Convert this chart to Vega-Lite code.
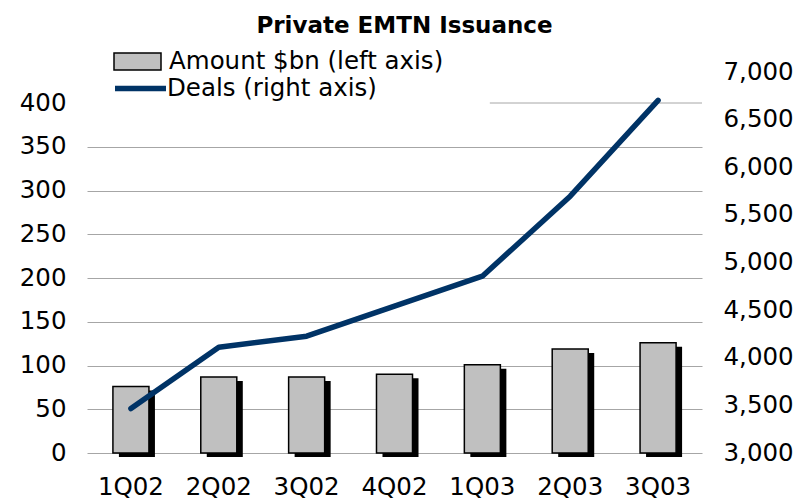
{
  "$schema": "https://vega.github.io/schema/vega-lite/v6.json",
  "width": 615,
  "height": 381,
  "autosize": {"type": "none"},
  "padding": {"left": 87, "top": 72, "right": 94, "bottom": 47},
  "background": "white",
  "title": {
    "text": "Private EMTN Issuance",
    "font": "DejaVu Sans",
    "fontSize": 23,
    "fontWeight": "bold",
    "color": "#000",
    "anchor": "middle",
    "baseline": "alphabetic",
    "dx": 10,
    "offset": -19
  },
  "config": {
    "view": {"stroke": null},
    "axis": {
      "labelFont": "DejaVu Sans",
      "labelFontSize": 24.5,
      "labelColor": "#000",
      "ticks": false,
      "domain": false,
      "title": null
    },
    "legend": {
      "labelFont": "DejaVu Sans",
      "labelFontSize": 24.5,
      "labelColor": "#000",
      "labelLimit": 1000,
      "padding": 0,
      "title": null
    }
  },
  "data": {
    "values": [
      {"q": "1Q02", "amount": 76, "deals": 3466},
      {"q": "2Q02", "amount": 87, "deals": 4110},
      {"q": "3Q02", "amount": 87, "deals": 4226},
      {"q": "4Q02", "amount": 90, "deals": 4541},
      {"q": "1Q03", "amount": 101, "deals": 4856},
      {"q": "2Q03", "amount": 119, "deals": 5696},
      {"q": "3Q03", "amount": 126, "deals": 6702}
    ]
  },
  "layer": [
    {
      "mark": {"type": "bar", "color": "#000", "xOffset": 6, "yOffset": 4, "y2Offset": 3},
      "encoding": {
        "x": {"field": "q", "type": "nominal", "sort": null, "scale": {"type": "band", "paddingInner": 0.59, "paddingOuter": 0.295}, "axis": null},
        "y": {"field": "amount", "type": "quantitative", "scale": {"domain": [0, 435.43], "nice": false, "zero": true}, "axis": null}
      }
    },
    {
      "mark": {"type": "rule", "color": "#a6a6a6", "strokeWidth": 1},
      "data": {"values": [{}]},
      "encoding": {
        "x": {"datum": 0.655, "type": "quantitative", "scale": {"domain": [0, 1], "nice": false}, "axis": null},
        "x2": {"datum": 1},
        "y": {"datum": 400, "type": "quantitative", "scale": {"domain": [0, 435.43], "nice": false}, "axis": null}
      }
    },
    {
      "mark": {"type": "bar", "stroke": "#000", "strokeWidth": 1.5},
      "encoding": {
        "x": {"field": "q", "type": "nominal", "sort": null, "scale": {"type": "band", "paddingInner": 0.59, "paddingOuter": 0.295},
          "axis": {"labelAngle": 0, "labelPadding": 22, "grid": false}},
        "y": {"field": "amount", "type": "quantitative", "scale": {"domain": [0, 435.43], "nice": false, "zero": true},
          "axis": {"orient": "left", "values": [0, 50, 100, 150, 200, 250, 300, 350, 400], "labelPadding": 21, "grid": true,
            "gridColor": {"condition": {"test": "datum.value === 400", "value": "transparent"}, "value": "#a6a6a6"}, "gridWidth": 1}},
        "fill": {"datum": "Amount $bn (left axis)", "scale": {"range": ["#c0c0c0"]},
          "legend": {"orient": "none", "legendX": 26, "legendY": -35, "symbolType": "M-1,-0.36H1V0.36H-1Z", "symbolSize": 2209,
            "symbolStrokeColor": "#000", "symbolStrokeWidth": 1.5, "labelOffset": 7}}
      }
    },
    {
      "mark": {"type": "line", "strokeWidth": 5.5, "strokeCap": "round", "strokeJoin": "round"},
      "encoding": {
        "x": {"field": "q", "type": "nominal", "sort": null, "scale": {"type": "point", "padding": 0.5}, "axis": null},
        "y": {"field": "deals", "type": "quantitative", "scale": {"domain": [3000, 7000], "nice": false, "zero": false},
          "axis": {"orient": "right", "values": [3000, 3500, 4000, 4500, 5000, 5500, 6000, 6500, 7000], "format": ",d", "labelPadding": 21, "grid": false}},
        "stroke": {"datum": "Deals (right axis)", "scale": {"range": ["#003366"]},
          "legend": {"orient": "none", "legendX": 25, "legendY": -12, "symbolType": "stroke", "symbolSize": 2601,
            "symbolStrokeWidth": 5.5, "labelOffset": -2}}
      }
    }
  ],
  "resolve": {"scale": {"x": "independent", "y": "independent", "fill": "independent", "stroke": "independent"}}
}
